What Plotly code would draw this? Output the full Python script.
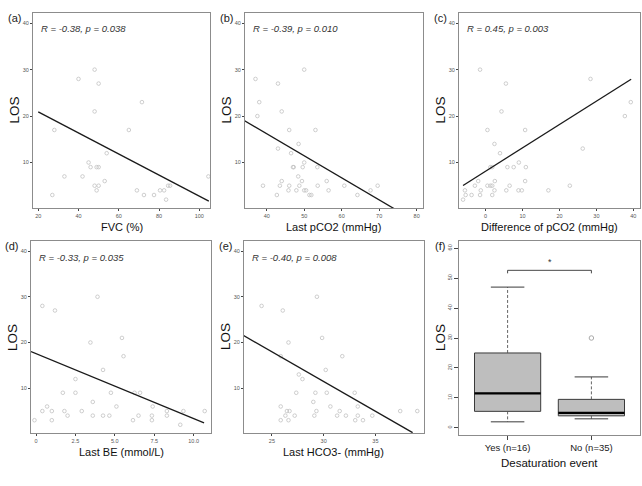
import plotly.graph_objects as go

# ---------------- data ----------------
fvc = [48, 40, 50, 71.5, 48, 28, 65, 54, 45, 46, 49, 50, 33, 42, 104.5, 53, 48, 50, 84.5, 85.5,
       49, 69, 80.5, 82.5, 27, 72.5, 77.5, 83.5]
los_a = [30, 28, 27, 23, 21, 17, 17, 12, 10, 9, 9, 9, 7, 7, 7, 6, 5, 5, 5, 5,
         4, 4, 4, 4, 3, 3, 3, 2]

pco2 = [50, 37, 43, 38, 44, 37.5, 46, 53, 48.5, 43, 46.5, 50, 47, 47.2, 49.6, 53.5, 48.4, 44, 49.4, 56,
        39, 43.5, 46, 48.7, 53.6, 60.7, 69.6, 45.8, 47.9, 50, 50.5, 56.5, 67.7, 42.7, 51.4, 51.9, 64.2]
los_b = [30, 28, 27, 23, 21, 20, 17, 17, 14, 13, 12, 10, 9, 9, 9, 9, 7, 6, 6, 6,
         5, 5, 5, 5, 5, 5, 5, 4, 4, 4, 4, 4, 4, 3, 3, 3, 3]

dpco2 = [-1.5, 28.4, 5.5, 39.3, 4.3, 37.7, 0.5, 10.7, 2.4, 26.3, 3.9, 9, 1.3, 1.8, 5.9, 7.6, 10.9,
         -2, 2.5, 10.7, -2.9, 0.5, 1.3, 1.8, 6.5, 22.8, -5.6, -1.3, 2.4, 5.6, 8.9, 9.8, 17,
         -5.4, -3.8, -1.5, 1.8, -6.1]
los_c = [30, 28, 27, 23, 21, 20, 17, 17, 14, 13, 12, 10, 9, 9, 9, 9, 9,
         6, 6, 6, 5, 5, 5, 5, 5, 5, 4, 4, 4, 4, 4, 4, 4,
         3, 3, 3, 3, 2]

be = [3.9, 0.4, 1.2, 5.45, 3.45, 5.55, 4.25, 2.5, 1.7, 2.5, 4.75, 6.25, 6.6, 3.6, 0.7, 5.1, 7.4,
      0.4, 1, 1.8, 2.9, 8.3, 9.35, 10.7, 2, 3.6, 4.25, 4.65, 6.5, 7.35, 8.3, -0.1, 1, 6.15, 7.35, 9.15]
los_d = [30, 28, 27, 21, 20, 17, 14, 12, 9, 9, 9, 9, 9, 7, 6, 6, 6,
         5, 5, 5, 5, 5, 5, 5, 4, 4, 4, 4, 4, 4, 4, 3, 3, 3, 3, 2]

hco3 = [29.35, 24, 26.05, 29.85, 26.6, 25.85, 31.8, 30.2, 27.6, 27.95, 27.35, 29.2, 30.3, 33, 29,
        25.85, 30.65, 33.3, 26.45, 26.7, 29.3, 31.55, 37.4, 39.05, 26.3, 27.2, 29.1, 31.3, 32.15,
        33.3, 34.7, 25.85, 26.6, 33.05, 33.8]
los_e = [30, 28, 27, 21, 20, 17, 17, 14, 13, 12, 9, 9, 9, 9, 7,
         6, 6, 6, 5, 5, 5, 5, 5, 5, 4, 4, 4, 4, 4,
         4, 4, 3, 3, 3, 3]

# regression fits: [x from, x to, intercept, slope]
fit_a = [20.0, 104.7, 25.44, -0.227]
fit_b = [33.9, 74.1, 35.2, -0.475]
fit_c = [-6.1, 39.4, 8.12, 0.503]
fit_d = [-0.32, 10.66, 17.55, -1.42]
fit_e = [22.24, 38.6, 50.45, -1.30]

cor_labels = ["R = -0.38, p = 0.038", "R = -0.39, p = 0.010", "R = 0.45, p = 0.003",
              "R = -0.33, p = 0.035", "R = -0.40, p = 0.008"]
x_titles = ["FVC (%)", "Last pCO2 (mmHg)", "Difference of pCO2 (mmHg)",
            "Last BE (mmol/L)", "Last HCO3- (mmHg)"]
panel_tags = ["(a)", "(b)", "(c)", "(d)", "(e)", "(f)"]

# boxplot (f)
groups = ["Yes (n=16)", "No (n=35)"]
box_low = [2, 3]
box_q1 = [5.5, 4]
box_med = [11.5, 5]
box_q3 = [25, 9.5]
box_high = [47, 17]
outlier_group = [1]
outlier_val = [30]
sig_y = 52.6
sig_label = "*"

# ---------------- layout helpers ----------------
W, H = 642, 486
FONT = "Arial, Liberation Sans, sans-serif"


def px_x(p):
    return p / W


def px_y(p):
    return 1 - p / H


panels = [
    dict(box=(33, 210, 13, 208), xr=[17.4, 105.3], tv=[20, 40, 60, 80, 100], tt=None),
    dict(box=(245, 423, 13, 208), xr=[34.2, 81.7], tv=[40, 50, 60, 70, 80], tt=None),
    dict(box=(459, 640, 13, 208), xr=[-7.2, 41.8], tv=[0, 10, 20, 30, 40], tt=None),
    dict(box=(31, 211, 241, 433), xr=[-0.32, 11.1], tv=[0, 2.5, 5, 7.5, 10],
         tt=["0", "2.5", "5.0", "7.5", "10.0"]),
    dict(box=(244, 424, 241, 433), xr=[22.3, 39.7], tv=[25, 30, 35], tt=None),
    dict(box=(459, 640, 241, 435), xr=[-0.58, 1.58], tv=[0, 1], tt=groups),
]

xs = [fvc, pco2, dpco2, be, hco3]
ys = [los_a, los_b, los_c, los_d, los_e]
fits = [fit_a, fit_b, fit_c, fit_d, fit_e]

fig = go.Figure()
layout = dict(width=W, height=H, margin=dict(l=0, r=0, t=0, b=0),
              paper_bgcolor="white", plot_bgcolor="white", showlegend=False,
              font=dict(family=FONT))
annotations = []

axis_common = dict(showline=True, mirror=True, linecolor="#8c8c8c", linewidth=1,
                   showgrid=False, zeroline=False, ticks="outside", ticklen=2,
                   tickwidth=0.6, tickcolor="#444", tickfont=dict(size=5.5, color="#555", family=FONT))

for i, p in enumerate(panels):
    n = "" if i == 0 else str(i + 1)
    x0, x1, yt, yb = p["box"]
    xa = dict(axis_common, domain=[px_x(x0), px_x(x1)], range=p["xr"],
              tickvals=p["tv"], anchor="y" + n)
    if p["tt"] is not None:
        xa["ticktext"] = p["tt"]
    if i < 5:
        ya = dict(axis_common, domain=[px_y(yb), px_y(yt)], range=[0.2, 42.2],
                  tickvals=[10, 20, 30, 40], anchor="x" + n)
    else:
        ya = dict(axis_common, domain=[px_y(yb), px_y(yt)], range=[-2.4, 62.4],
                  tickvals=[0, 10, 20, 30, 40, 50, 60], tickangle=-90, anchor="x" + n)
        xa["tickfont"] = dict(size=9.5, color="#222", family=FONT)
        xa["ticklen"] = 4
        ya["ticklen"] = 4
    layout["xaxis" + n] = xa
    layout["yaxis" + n] = ya

    annotations.append(dict(text=panel_tags[i], x=px_x(x0 - 19), y=px_y(yt + 5), xref="paper", yref="paper",
                            showarrow=False, font=dict(size=11, color="#222", family=FONT),
                            xanchor="center", yanchor="middle"))
    annotations.append(dict(text="LOS", x=px_x(x0 - 19), y=px_y((yt + yb) / 2), xref="paper", yref="paper",
                            showarrow=False, textangle=-90, font=dict(size=13.5, color="#111", family=FONT),
                            xanchor="center", yanchor="middle"))

    if i < 5:
        fig.add_trace(go.Scatter(x=xs[i], y=ys[i], mode="markers", xaxis="x" + n, yaxis="y" + n,
                                 marker=dict(symbol="circle-open", size=3.6, color="#c2c2c2",
                                             line=dict(width=0.8, color="#c2c2c2"))))
        fa, fb, c0, c1 = fits[i]
        fig.add_trace(go.Scatter(x=[fa, fb], y=[c0 + c1 * fa, c0 + c1 * fb], mode="lines",
                                 xaxis="x" + n, yaxis="y" + n,
                                 line=dict(color="#1a1a1a", width=1.3)))
        annotations.append(dict(text="<i>" + cor_labels[i] + "</i>", x=px_x(x0 + 6), y=40.5 if i < 3 else 40.3,
                                xref="paper", yref="y" + n, showarrow=False, xanchor="left", yanchor="top",
                                font=dict(size=9.5, color="#333", family=FONT)))
        annotations.append(dict(text=x_titles[i], x=px_x((x0 + x1) / 2), y=px_y(yb + 19), xref="paper",
                                yref="paper", showarrow=False, xanchor="center", yanchor="middle",
                                font=dict(size=11, color="#111", family=FONT)))

# ---- boxplot panel ----
bn = "6"
gx = [0, 1]
fig.add_trace(go.Box(x=gx, q1=box_q1, median=box_med, q3=box_q3, lowerfence=box_q1, upperfence=box_q3,
                     xaxis="x" + bn, yaxis="y" + bn, width=0.79, fillcolor="#bebebe",
                     line=dict(color="#3a3a3a", width=1), boxpoints=False, whiskerwidth=0))
for gi in range(len(groups)):
    fig.add_trace(go.Scatter(x=[gx[gi], gx[gi]], y=[box_q3[gi], box_high[gi]], mode="lines",
                             xaxis="x" + bn, yaxis="y" + bn, line=dict(color="#555", width=0.9, dash="3px,2px")))
    fig.add_trace(go.Scatter(x=[gx[gi], gx[gi]], y=[box_q1[gi], box_low[gi]], mode="lines",
                             xaxis="x" + bn, yaxis="y" + bn, line=dict(color="#555", width=0.9, dash="3px,2px")))
    for v in (box_low[gi], box_high[gi]):
        fig.add_trace(go.Scatter(x=[gx[gi] - 0.2, gx[gi] + 0.2], y=[v, v], mode="lines",
                                 xaxis="x" + bn, yaxis="y" + bn, line=dict(color="#3a3a3a", width=1)))
    fig.add_trace(go.Scatter(x=[gx[gi] - 0.395, gx[gi] + 0.395], y=[box_med[gi], box_med[gi]], mode="lines",
                             xaxis="x" + bn, yaxis="y" + bn, line=dict(color="#000", width=2.4)))
fig.add_trace(go.Scatter(x=[gx[g] for g in outlier_group], y=outlier_val, mode="markers",
                         xaxis="x" + bn, yaxis="y" + bn,
                         marker=dict(symbol="circle-open", size=4.5, color="#aaa", line=dict(width=1, color="#aaa"))))
fig.add_trace(go.Scatter(x=[gx[0], gx[0], gx[1], gx[1]], y=[sig_y - 1, sig_y, sig_y, sig_y - 1], mode="lines",
                         xaxis="x" + bn, yaxis="y" + bn, line=dict(color="#333", width=0.9)))
annotations.append(dict(text=sig_label, x=(gx[0] + gx[1]) / 2, y=sig_y + 0.6, xref="x" + bn, yref="y" + bn,
                        showarrow=False, yanchor="bottom", font=dict(size=9, color="#333", family=FONT)))
bx0, bx1, byt, byb = panels[5]["box"]
annotations.append(dict(text="Desaturation event", x=px_x((bx0 + bx1) / 2), y=px_y(463), xref="paper",
                        yref="paper", showarrow=False, xanchor="center", yanchor="middle",
                        font=dict(size=11.5, color="#111", family=FONT)))

layout["annotations"] = annotations
fig.update_layout(**layout)
fig.write_html("out.html")
